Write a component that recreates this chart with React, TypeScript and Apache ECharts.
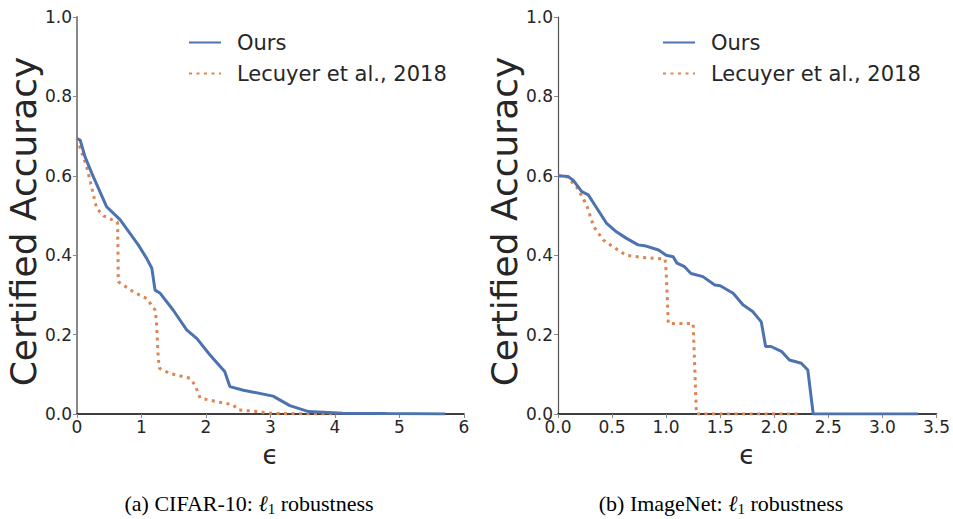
import React, { useEffect, useRef } from "react";
import * as echarts from "echarts";

// CIFAR-10 (left panel)
const cifarOursEps = [0, 0.05, 0.12, 0.23, 0.46, 0.67, 0.95, 1.08, 1.16, 1.21, 1.29, 1.49, 1.7, 1.86, 2.04, 2.11, 2.29, 2.37, 2.58, 3.04, 3.3, 3.59, 4.12, 4.8, 5.71];
const cifarOursAcc = [0.694, 0.69, 0.65, 0.606, 0.522, 0.489, 0.426, 0.392, 0.367, 0.312, 0.304, 0.262, 0.212, 0.19, 0.153, 0.14, 0.107, 0.069, 0.06, 0.045, 0.021, 0.006, 0.002, 0.001, 0];
const cifarLecEps = [0, 0.15, 0.305, 0.41, 0.62, 0.63, 0.64, 0.87, 1.08, 1.21, 1.23, 1.26, 1.28, 1.44, 1.75, 1.83, 1.91, 2.17, 2.42, 2.5, 2.84, 2.94, 3.2, 4.03];
const cifarLecAcc = [0.694, 0.623, 0.518, 0.499, 0.484, 0.48, 0.333, 0.308, 0.291, 0.262, 0.237, 0.14, 0.115, 0.102, 0.09, 0.073, 0.04, 0.031, 0.023, 0.01, 0.006, 0.002, 0.001, 0];

// ImageNet (right panel)
const imnetOursEps = [0, 0.095, 0.14, 0.22, 0.28, 0.37, 0.45, 0.54, 0.63, 0.74, 0.8, 0.93, 1.0, 1.065, 1.1, 1.17, 1.23, 1.34, 1.45, 1.5, 1.62, 1.71, 1.8, 1.88, 1.92, 1.97, 2.07, 2.14, 2.25, 2.31, 2.36, 3.33];
const imnetOursAcc = [0.6, 0.598, 0.589, 0.56, 0.552, 0.514, 0.48, 0.459, 0.443, 0.426, 0.424, 0.413, 0.4, 0.396, 0.38, 0.371, 0.354, 0.346, 0.325, 0.323, 0.304, 0.275, 0.258, 0.232, 0.17, 0.17, 0.157, 0.136, 0.128, 0.111, 0, 0];
const imnetLecEps = [0, 0.08, 0.17, 0.265, 0.33, 0.42, 0.51, 0.63, 0.76, 0.99, 1.0, 1.02, 1.25, 1.26, 1.28, 2.25];
const imnetLecAcc = [0.6, 0.598, 0.573, 0.526, 0.472, 0.438, 0.421, 0.4, 0.395, 0.39, 0.36, 0.228, 0.228, 0.15, 0, 0];

const seriesNames = ["Ours", "Lecuyer et al., 2018"];
const yTicks = [0, 0.2, 0.4, 0.6, 0.8, 1.0];
const leftXTicks = [0, 1, 2, 3, 4, 5, 6];
const rightXTicks = [0, 0.5, 1.0, 1.5, 2.0, 2.5, 3.0, 3.5];
const captions = [
  { pre: "(a) CIFAR-10: ", post: " robustness", cx: 249 },
  { pre: "(b) ImageNet: ", post: " robustness", cx: 721 },
];

const zip = (xs: number[], ys: number[]) => xs.map((x, i) => [x, ys[i]]);

const BLUE = "#4C72B0";
const ORANGE = "#DD8452";
const SANS = "DejaVu Sans";
const SERIF = "Liberation Serif";

export default function App() {
  const ref = useRef<HTMLDivElement>(null);
  useEffect(() => {
    if (!ref.current) return;
    const chart = echarts.init(ref.current, null, { renderer: "svg" });

    const cvs = document.createElement("canvas");
    const ctx = cvs.getContext("2d")!;
    const measure = (t: string, font: string) => {
      ctx.font = font;
      return ctx.measureText(t).width;
    };
    const capFont = `22px "${SERIF}"`;
    const ellFont = `italic 22px "${SERIF}"`;
    const subFont = `15px "${SERIF}"`;
    const midY = 503;
    const captionGraphics: any[] = [];
    captions.forEach((c) => {
      const w1 = measure(c.pre, capFont);
      const w2 = measure("ℓ", ellFont);
      const w3 = measure("1", subFont);
      const w4 = measure(c.post, capFont);
      const total = w1 + w2 + w3 + w4;
      let x = c.cx - total / 2;
      const base = { fill: "#000", verticalAlign: "middle", align: "left" };
      captionGraphics.push({ type: "text", x, y: midY, style: { ...base, text: c.pre, font: capFont } });
      x += w1;
      captionGraphics.push({ type: "text", x, y: midY, style: { ...base, text: "ℓ", font: ellFont } });
      x += w2;
      captionGraphics.push({ type: "text", x, y: midY + 6, style: { ...base, text: "1", font: subFont } });
      x += w3;
      captionGraphics.push({ type: "text", x, y: midY, style: { ...base, text: c.post, font: capFont } });
    });

    const makeX = (gridIndex: number, max: number, interval: number, dec: number, ticks: number[]) => ({
      type: "value",
      gridIndex,
      min: 0,
      max,
      interval,
      name: "ϵ",
      nameLocation: "middle",
      nameGap: 28,
      nameTextStyle: { fontFamily: SANS, fontSize: 26, color: "#262626" },
      axisLine: { show: true, onZero: false, lineStyle: { color: "#000", width: 1.5 } },
      axisTick: { show: true, inside: false, length: 4, lineStyle: { color: "#888" } },
      axisLabel: {
        fontFamily: SANS,
        fontSize: 17,
        color: "#262626",
        margin: 4,
        formatter: (v: number) => (ticks.some((t) => Math.abs(t - v) < 1e-9) ? v.toFixed(dec) : ""),
      },
      splitLine: { show: false },
    });
    const makeY = (gridIndex: number, lineColor: string, lineWidth: number) => ({
      type: "value",
      gridIndex,
      min: 0,
      max: 1,
      interval: 0.2,
      name: "Certified Accuracy",
      nameLocation: "middle",
      nameGap: 34,
      nameTextStyle: { fontFamily: SANS, fontSize: 36, color: "#262626", padding: [0, 12, 0, 0] },
      axisLine: { show: true, lineStyle: { color: lineColor, width: lineWidth } },
      axisTick: { show: true, inside: false, length: 4, lineStyle: { color: "#888" } },
      axisLabel: {
        fontFamily: SANS,
        fontSize: 17,
        color: "#262626",
        margin: 5,
        formatter: (v: number) => (yTicks.some((t) => Math.abs(t - v) < 1e-9) ? v.toFixed(1) : ""),
      },
      splitLine: { show: false },
    });

    const line = (name: string, data: number[][], xi: number, color: string, dotted: boolean) => ({
      type: "line",
      name,
      xAxisIndex: xi,
      yAxisIndex: xi,
      data,
      symbol: "none",
      showSymbol: false,
      smooth: false,
      lineStyle: { color, width: 3, type: dotted ? [3, 4.5] : "solid", cap: "butt" },
      itemStyle: { color },
      z: dotted ? 2 : 3,
    });

    const legend = (left: number) => ({
      orient: "vertical",
      left,
      top: 27,
      itemWidth: 32,
      itemHeight: 14,
      itemGap: 10,
      data: seriesNames,
      selectedMode: false,
      itemStyle: { opacity: 0 },
      textStyle: { fontFamily: SANS, fontSize: 21, color: "#262626", padding: [0, 0, 0, 11], lineHeight: 21 },
    });

    chart.setOption({
      animation: false,
      backgroundColor: "#fff",
      grid: [
        { left: 77, right: 953 - 464, top: 17, bottom: 519 - 414, containLabel: false },
        { left: 558, right: 953 - 937, top: 17, bottom: 519 - 414, containLabel: false },
      ],
      xAxis: [makeX(0, 6, 1, 0, leftXTicks), makeX(1, 3.5, 0.5, 1, rightXTicks)],
      yAxis: [makeY(0, "#888", 2), makeY(1, "#555", 1.2)],
      legend: [legend(183), legend(657)],
      series: [
        line(seriesNames[1], zip(cifarLecEps, cifarLecAcc), 0, ORANGE, true),
        line(seriesNames[0], zip(cifarOursEps, cifarOursAcc), 0, BLUE, false),
        line(seriesNames[1], zip(imnetLecEps, imnetLecAcc), 1, ORANGE, true),
        line(seriesNames[0], zip(imnetOursEps, imnetOursAcc), 1, BLUE, false),
      ],
      graphic: captionGraphics,
    });
    return () => chart.dispose();
  }, []);
  return <div ref={ref} style={{ width: 953, height: 519, position: "absolute", left: 0, top: 0 }} />;
}
